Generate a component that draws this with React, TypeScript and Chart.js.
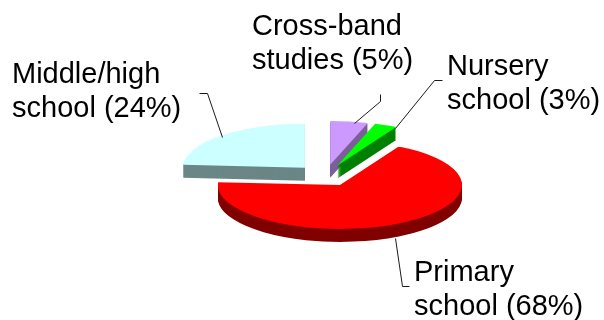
import React, { useEffect, useRef } from "react";
import { Chart, registerables } from "chart.js";

Chart.register(...registerables);

const categories = ["Cross-band studies", "Nursery school", "Primary school", "Middle/high school"];
const shares = [5, 3, 68, 24];
const topColors = ["#CC99FF", "#00FF00", "#FF0000", "#CCFFFF"];
const wallColors = ["#7A5F99", "#008000", "#800000", "#6B8686"];
const labelLines = [
  ["Cross-band", "studies (5%)"],
  ["Nursery", "school (3%)"],
  ["Primary", "school (68%)"],
  ["Middle/high", "school (24%)"],
];

// Tilted, exploded pie settings and callout placement.
const tilt = 0.36;
const depth = 13;
const explode = 30;
const calloutAnchors = [
  { x: 252, y: 35 },
  { x: 447, y: 75 },
  { x: 414, y: 281 },
  { x: 12, y: 83 },
];
const leaders = [
  [[380, 94], [380, 101], [354, 123]],
  [[442, 80], [434, 80], [395, 128]],
  [[395, 238], [402, 286], [409, 286]],
  [[199, 93], [207, 93], [222, 137]],
];

const tiltedPie = {
  id: "tiltedPie",
  beforeDatasetDraw(chart: any, args: any) {
    const { ctx } = chart;
    const arcs = args.meta.data;
    arcs.forEach((arc: any, i: number) => {
      const mid = (arc.startAngle + arc.endAngle) / 2;
      const stamp = (drop: number, color: string) => {
        ctx.save();
        ctx.translate(arc.x, arc.y + drop);
        ctx.scale(1, tilt);
        ctx.translate(Math.cos(mid) * explode - arc.x, Math.sin(mid) * explode - arc.y);
        const saved = arc.options.backgroundColor;
        arc.options.backgroundColor = color;
        arc.draw(ctx);
        arc.options.backgroundColor = saved;
        ctx.restore();
      };
      for (let d = depth; d > 0; d--) stamp(d, wallColors[i]);
      stamp(0, topColors[i]);
    });
    return false;
  },
  afterDraw(chart: any) {
    const { ctx } = chart;
    ctx.save();
    ctx.strokeStyle = "#1a1a1a";
    ctx.lineWidth = 1;
    leaders.forEach((points) => {
      ctx.beginPath();
      points.forEach(([x, y], n) => (n ? ctx.lineTo(x + 0.5, y + 0.5) : ctx.moveTo(x + 0.5, y + 0.5)));
      ctx.stroke();
    });
    ctx.fillStyle = "#000000";
    ctx.font = '29px "Liberation Sans"';
    ctx.textBaseline = "alphabetic";
    labelLines.forEach((lines, i) => {
      lines.forEach((line, n) => {
        ctx.fillText(line, calloutAnchors[i].x, calloutAnchors[i].y + n * 33.5);
      });
    });
    ctx.restore();
  },
};

export default function App() {
  const canvasRef = useRef<HTMLCanvasElement>(null);

  useEffect(() => {
    const chart = new Chart(canvasRef.current!, {
      type: "pie",
      data: {
        labels: categories,
        datasets: [{ data: shares, backgroundColor: topColors, borderWidth: 0 }],
      },
      options: {
        animation: false,
        responsive: false,
        layout: { padding: { left: 203.5, right: 156.5, top: 53.5, bottom: 22.5 } },
        plugins: { legend: { display: false }, tooltip: { enabled: false } },
      },
      plugins: [tiltedPie],
    });
    return () => chart.destroy();
  }, []);

  return (
    <div style={{ position: "fixed", left: 0, top: 0, width: 604, height: 320, background: "#fff" }}>
      <canvas ref={canvasRef} width={604} height={320} style={{ display: "block" }} />
    </div>
  );
}
